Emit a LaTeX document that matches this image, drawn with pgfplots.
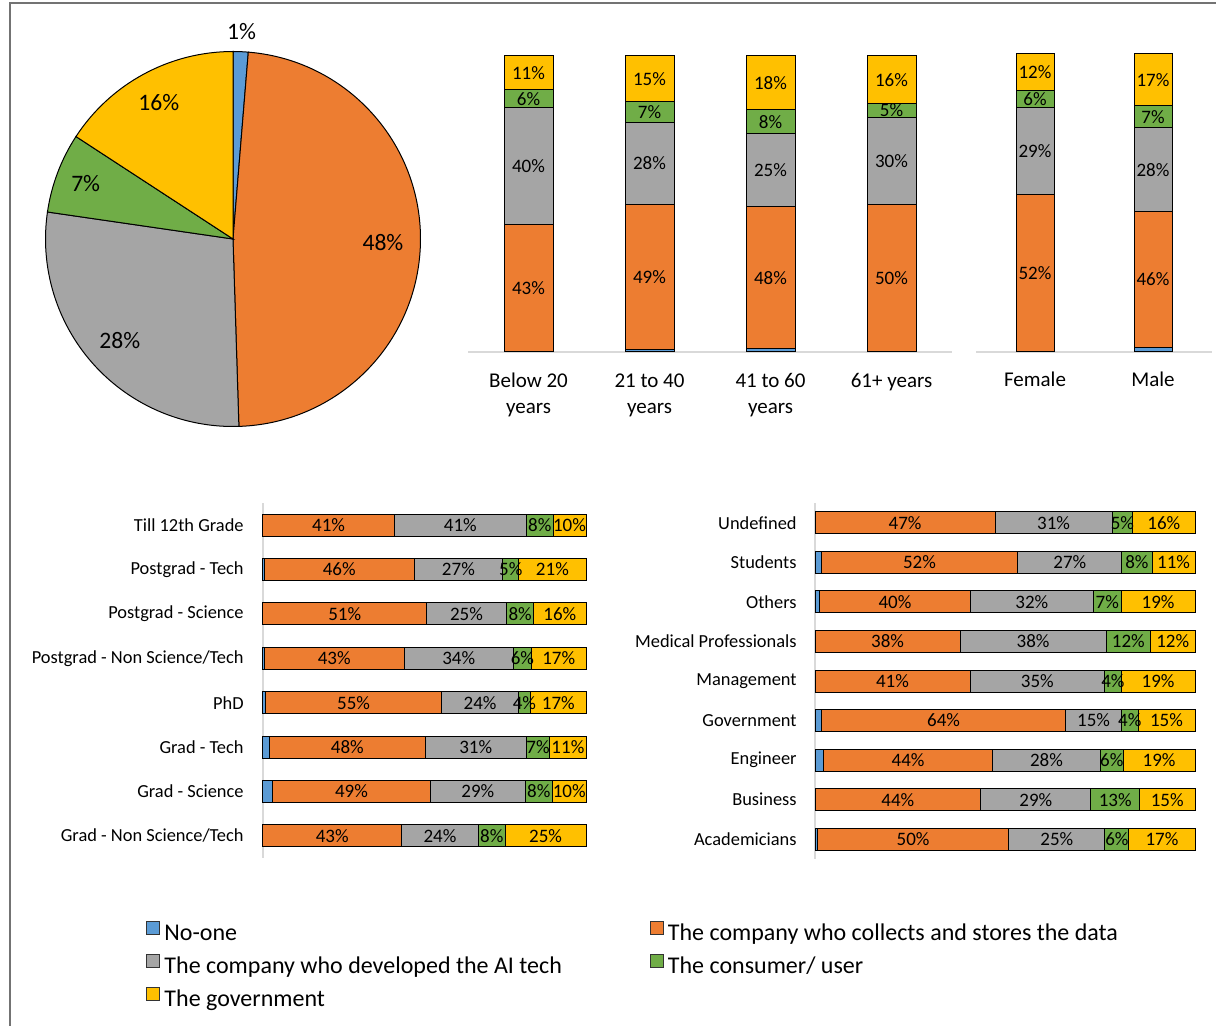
\documentclass[border=0pt]{standalone}
\usepackage{pgfplots}
\pgfplotsset{compat=1.18}
\usepackage{pgfplotstable}
\usepackage{fontspec}
\setmainfont{Carlito}
\definecolor{cblue}{HTML}{5B9BD5}
\definecolor{corange}{HTML}{ED7D31}
\definecolor{cgray}{HTML}{A5A5A5}
\definecolor{cgreen}{HTML}{70AD47}
\definecolor{cyellow}{HTML}{FFC000}
\newcommand\fseg{\fontsize{9.5}{11}\selectfont}
\newcommand\fcat{\fontsize{9.2}{11}\selectfont}
\newcommand\fage{\fontsize{10.5}{13}\selectfont}
\newcommand\fleg{\fontsize{12}{14}\selectfont}
\newcommand\fpie{\fontsize{11.8}{14}\selectfont}
\pgfplotsset{
  /pgf/number format/assume math mode=true,
  seg/.style={fill=#1, draw=black, line width=0.5pt},
  hlab/.style={visualization depends on=rawx\as\segv,
    nodes near coords={\pgfmathprintnumber[fixed,precision=0]{\segv}\%},
    nodes near coords style={font=\fseg, text=black, anchor=center, inner sep=0pt}},
  vlab/.style={visualization depends on=rawy\as\segv,
    nodes near coords={\pgfmathprintnumber[fixed,precision=0]{\segv}\%},
    nodes near coords style={font=\fseg, text=black, anchor=center, inner sep=0pt}},
}
% age groups
\pgfplotstableread{
idx blue orange gray green yellow
0 0 43.0 39.6 6.0 11.4
1 0.9 48.9 27.9 6.9 15.4
2 1.2 47.8 24.8 8.0 18.2
3 0 49.7 29.6 4.6 16.1
}\agetab
% gender
\pgfplotstableread{
idx blue orange gray green yellow
0 0.3 52.4 29.4 5.6 12.3
1 1.5 45.7 28.0 7.4 17.4
}\gentab
% education
\pgfplotstableread{
idx blue orange gray green yellow
0 0 40.6 41.0 8.2 10.2
1 0.4 46.4 27.4 5.0 20.8
2 0 50.6 24.8 8.4 16.2
3 0.4 43.3 33.8 5.6 16.9
4 0.7 54.7 23.6 3.9 17.1
5 2.0 48.2 31.3 7.3 11.2
6 3.0 48.8 29.4 8.4 10.4
7 0 42.9 23.8 8.3 25.0
}\edutab
% occupation
\pgfplotstableread{
idx blue orange gray green yellow
0 0 47.4 30.8 5.4 16.4
1 1.6 51.8 27.3 8.0 11.3
2 1.2 39.7 32.3 7.4 19.4
3 0 38.2 38.4 11.7 11.7
4 0 40.8 35.4 4.4 19.4
5 1.8 64.1 14.8 4.3 15.0
6 2.3 44.4 28.4 6.0 18.9
7 0 43.6 29.0 12.8 14.6
8 0.6 50.4 25.3 6.3 17.4
}\occtab
\begin{document}
\begin{tikzpicture}
\useasboundingbox (0,0) rectangle (608pt,-513pt);
\draw[black!55, line width=1pt] (4.75pt,-513pt) -- (4.75pt,-1.35pt) -- (608pt,-1.35pt);

% ---------- pie ----------
\begin{axis}[at={(116.5pt,-119.5pt)}, anchor=center, scale only axis,
  width=187.5pt, height=187.5pt, xmin=-1, xmax=1, ymin=-1, ymax=1,
  hide axis, clip=false]
\filldraw[fill=cblue, draw=black, line width=0.5pt] (axis cs:0,0) -- (axis cs:{cos(90-3.6*0)},{sin(90-3.6*0)}) arc[start angle={90-3.6*0}, end angle={90-3.6*1.3}, radius=93.75pt] -- cycle;
\filldraw[fill=corange, draw=black, line width=0.5pt] (axis cs:0,0) -- (axis cs:{cos(90-3.6*1.3)},{sin(90-3.6*1.3)}) arc[start angle={90-3.6*1.3}, end angle={90-3.6*49.5}, radius=93.75pt] -- cycle;
\filldraw[fill=cgray, draw=black, line width=0.5pt] (axis cs:0,0) -- (axis cs:{cos(90-3.6*49.5)},{sin(90-3.6*49.5)}) arc[start angle={90-3.6*49.5}, end angle={90-3.6*77.3}, radius=93.75pt] -- cycle;
\filldraw[fill=cgreen, draw=black, line width=0.5pt] (axis cs:0,0) -- (axis cs:{cos(90-3.6*77.3)},{sin(90-3.6*77.3)}) arc[start angle={90-3.6*77.3}, end angle={90-3.6*84.2}, radius=93.75pt] -- cycle;
\filldraw[fill=cyellow, draw=black, line width=0.5pt] (axis cs:0,0) -- (axis cs:{cos(90-3.6*84.2)},{sin(90-3.6*84.2)}) arc[start angle={90-3.6*84.2}, end angle={90-3.6*100}, radius=93.75pt] -- cycle;
\node[font=\fpie] at (axis cs:{1.11*cos(90-1.8*1.3)},{1.11*sin(90-1.8*1.3)}) {1\%};
\node[font=\fpie] at (axis cs:{0.8*cos(90-1.8*50.8)},{0.8*sin(90-1.8*50.8)}) {48\%};
\node[font=\fpie] at (axis cs:{0.81*cos(90-1.8*126.8)},{0.81*sin(90-1.8*126.8)}) {28\%};
\node[font=\fpie] at (axis cs:{0.84*cos(90-1.8*161.5)},{0.84*sin(90-1.8*161.5)}) {7\%};
\node[font=\fpie] at (axis cs:{0.83*cos(90-1.8*184.2)},{0.83*sin(90-1.8*184.2)}) {16\%};
\end{axis}

% ---------- age ----------
\begin{axis}[at={(234pt,-176pt)}, anchor=south west, scale only axis,
  width=242pt, height=148pt, ybar stacked, bar width=24.5pt,
  xmin=-0.5, xmax=3.5, ymin=0, ymax=100,
  axis x line=bottom, axis y line=none, ytick=\empty,
  x axis line style={-, draw=black!15, line width=1pt},
  xtick={0,1,2,3},
  xticklabels={{Below 20\\years},{21 to 40\\years},{41 to 60\\years},{61+ years}},
  xticklabel style={align=center, font=\fage, text=black, anchor=north, inner sep=0pt, yshift=-10.5pt},
  major tick length=0pt, clip=false]
\addplot[seg=cblue] table[x=idx, y=blue]{\agetab};
\addplot[seg=corange, vlab] table[x=idx, y=orange]{\agetab};
\addplot[seg=cgray, vlab] table[x=idx, y=gray]{\agetab};
\addplot[seg=cgreen, vlab] table[x=idx, y=green]{\agetab};
\addplot[seg=cyellow, vlab] table[x=idx, y=yellow]{\agetab};
\end{axis}

% ---------- gender ----------
\begin{axis}[at={(488pt,-176pt)}, anchor=south west, scale only axis,
  width=118pt, height=149pt, ybar stacked, bar width=19pt,
  xmin=-0.5, xmax=1.5, ymin=0, ymax=100,
  axis x line=bottom, axis y line=none, ytick=\empty,
  x axis line style={-, draw=black!15, line width=1pt},
  xtick={0,1}, xticklabels={Female,Male},
  xticklabel style={align=center, font=\fage, text=black, anchor=north, inner sep=0pt, yshift=-10pt},
  major tick length=0pt, clip=false]
\addplot[seg=cblue] table[x=idx, y=blue]{\gentab};
\addplot[seg=corange, vlab] table[x=idx, y=orange]{\gentab};
\addplot[seg=cgray, vlab] table[x=idx, y=gray]{\gentab};
\addplot[seg=cgreen, vlab] table[x=idx, y=green]{\gentab};
\addplot[seg=cyellow, vlab] table[x=idx, y=yellow]{\gentab};
\end{axis}

% ---------- education ----------
\begin{axis}[at={(131.5pt,-429pt)}, anchor=south west, scale only axis,
  width=161.5pt, height=177.5pt, xbar stacked, bar width=11pt,
  xmin=0, xmax=100, ymin=-0.5, ymax=7.5, y dir=reverse,
  axis y line=left, axis x line=none, xtick=\empty,
  y axis line style={-, draw=black!15, line width=1pt},
  ytick={0,...,7},
  yticklabels={Till 12th Grade, Postgrad - Tech, Postgrad - Science, Postgrad - Non Science/Tech, PhD, Grad - Tech, Grad - Science, Grad - Non Science/Tech},
  yticklabel style={font=\fcat, text=black, anchor=east, inner sep=0pt, xshift=-9.5pt},
  major tick length=0pt, clip=false,
  legend image code/.code={\draw[#1, draw=black!80, line width=0.5pt] (0pt,0.5pt) rectangle (6.5pt,7pt);},
  legend columns=2, legend cell align=left,
  legend style={at={(axis description cs:-0.362,-0.176)}, anchor=north west, draw=none, fill=none,
    font=\fleg, inner sep=0pt, column sep=0pt, row sep=4pt,
    nodes={inner xsep=2pt, inner ysep=0pt, text height=8pt, text depth=2.5pt},
    /tikz/column 2/.style={column sep=42pt}}]
\addplot[seg=cblue] table[x=blue, y=idx]{\edutab};
\addlegendentry{No-one}
\addplot[seg=corange, hlab] table[x=orange, y=idx]{\edutab};
\addlegendentry{The company who collects and stores the data}
\addplot[seg=cgray, hlab] table[x=gray, y=idx]{\edutab};
\addlegendentry{The company who developed the AI tech}
\addplot[seg=cgreen, hlab] table[x=green, y=idx]{\edutab};
\addlegendentry{The consumer/ user}
\addplot[seg=cyellow, hlab] table[x=yellow, y=idx]{\edutab};
\addlegendentry{The government}
\end{axis}

% ---------- occupation ----------
\begin{axis}[at={(407.5pt,-429.5pt)}, anchor=south west, scale only axis,
  width=190pt, height=178pt, xbar stacked, bar width=11pt,
  xmin=0, xmax=100, ymin=-0.5, ymax=8.5, y dir=reverse,
  axis y line=left, axis x line=none, xtick=\empty,
  y axis line style={-, draw=black!15, line width=1pt},
  ytick={0,...,8},
  yticklabels={Undefined, Students, Others, Medical Professionals, Management, Government, Engineer, Business, Academicians},
  yticklabel style={font=\fcat, text=black, anchor=east, inner sep=0pt, xshift=-9pt},
  major tick length=0pt, clip=false]
\addplot[seg=cblue] table[x=blue, y=idx]{\occtab};
\addplot[seg=corange, hlab] table[x=orange, y=idx]{\occtab};
\addplot[seg=cgray, hlab] table[x=gray, y=idx]{\occtab};
\addplot[seg=cgreen, hlab] table[x=green, y=idx]{\occtab};
\addplot[seg=cyellow, hlab] table[x=yellow, y=idx]{\occtab};
\end{axis}
\end{tikzpicture}
\end{document}
